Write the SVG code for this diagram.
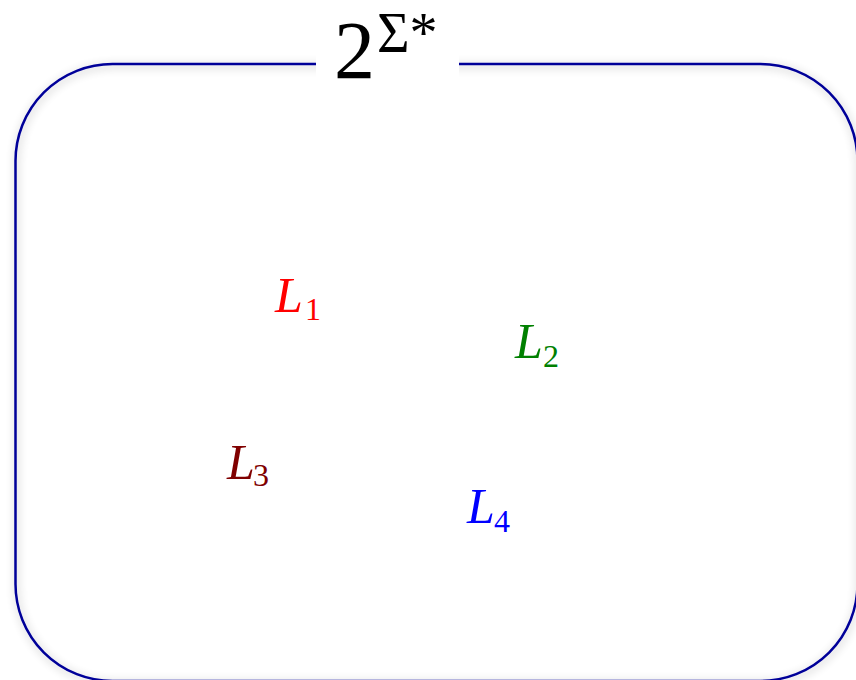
<svg xmlns="http://www.w3.org/2000/svg" width="856" height="680" viewBox="0 0 856 680">
<defs>
<filter id="sh" x="-10%" y="-10%" width="120%" height="120%">
<feGaussianBlur in="SourceAlpha" stdDeviation="5" result="b"/>
<feOffset in="b" dx="1" dy="2" result="o"/>
<feComponentTransfer in="o" result="c"><feFuncA type="linear" slope="0.3"/></feComponentTransfer>
<feMerge><feMergeNode in="c"/><feMergeNode in="SourceGraphic"/></feMerge>
</filter>
</defs>
<style>
text{font-family:"Liberation Serif","Times New Roman",serif}
.lab{font-style:italic;font-size:50px}
.sub{font-style:normal;font-size:32px}
</style>
<g id="universe">
<rect x="15.5" y="64" width="842" height="617" rx="97" ry="97" fill="#ffffff"/>
<rect x="15.5" y="64" width="842" height="617" rx="97" ry="97" fill="none" stroke="#000099" stroke-width="2.5" filter="url(#sh)"/>
</g>
<g id="title">
<rect x="316" y="28" width="143" height="62" fill="#ffffff"/>
<text x="334" y="78" font-size="82">2</text>
<text x="377" y="52" font-size="56">Σ*</text>
</g>
<g id="L1"><text fill="#ff0000"><tspan class="lab" x="275" y="312">L</tspan><tspan class="sub" x="305" y="320">1</tspan></text></g>
<g id="L2"><text fill="#008000"><tspan class="lab" x="515" y="358">L</tspan><tspan class="sub" x="543" y="367">2</tspan></text></g>
<g id="L3"><text fill="#800000"><tspan class="lab" x="227" y="479">L</tspan><tspan class="sub" x="253" y="486">3</tspan></text></g>
<g id="L4"><text fill="#0000ff"><tspan class="lab" x="467" y="523">L</tspan><tspan class="sub" x="494" y="532">4</tspan></text></g>
<g id="connectors"/>
</svg>
